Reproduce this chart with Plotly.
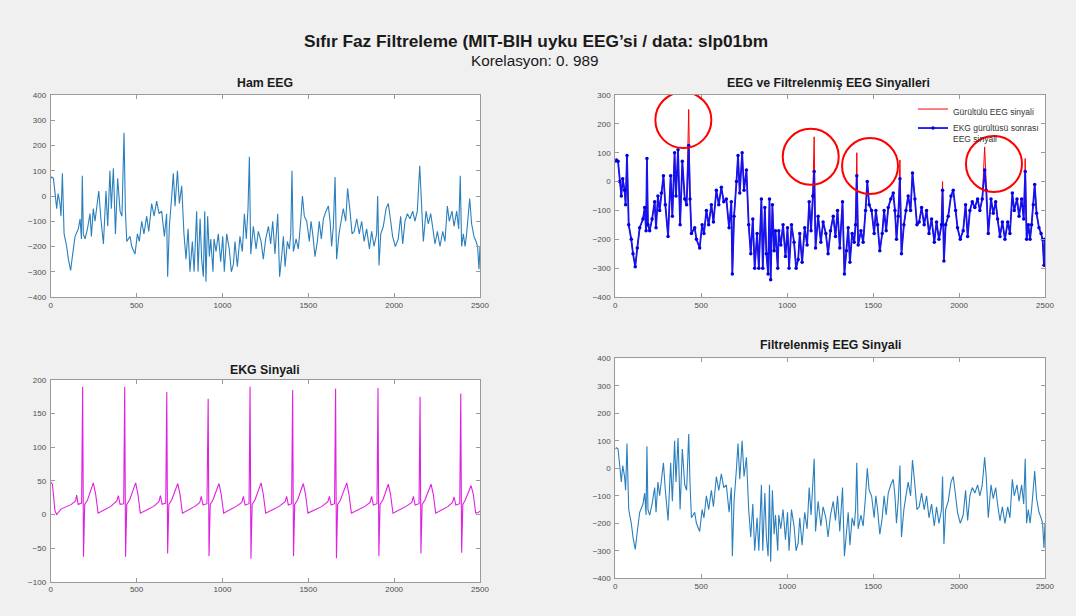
import plotly.graph_objects as go

# ---------------- data ----------------
eeg_t = [0, 6, 16, 25, 35, 43, 54, 60, 68, 78, 93, 103, 116, 128, 142, 161, 171, 179, 184, 190,
         200, 214, 229, 237, 248, 258, 268, 280, 291, 307, 322, 332, 345, 353, 365, 377, 390, 404, 415, 427,
         435, 443, 462, 472, 491, 505, 516, 530, 543, 559, 571, 588, 602, 617, 631, 646, 662, 675, 681, 691,
         705, 714, 724, 738, 749, 763, 776, 788, 800, 811, 825, 835, 850, 858, 870, 879, 889, 897, 904, 914,
         924, 932, 945, 951, 963, 976, 990, 1002, 1011, 1025, 1040, 1052, 1064, 1073, 1087, 1102, 1116, 1128, 1139, 1149,
         1157, 1165, 1180, 1196, 1209, 1225, 1238, 1252, 1268, 1281, 1293, 1306, 1322, 1333, 1345, 1355, 1365, 1378, 1390, 1398,
         1405, 1413, 1429, 1442, 1456, 1466, 1477, 1491, 1506, 1516, 1526, 1539, 1553, 1564, 1576, 1588, 1603, 1617, 1627, 1636,
         1646, 1656, 1665, 1679, 1691, 1704, 1718, 1729, 1743, 1755, 1768, 1782, 1797, 1811, 1825, 1840, 1856, 1869, 1883, 1898,
         1904, 1912, 1922, 1937, 1953, 1966, 1980, 1991, 2007, 2024, 2038, 2050, 2063, 2077, 2092, 2108, 2121, 2135, 2149, 2158,
         2170, 2186, 2199, 2213, 2224, 2238, 2252, 2267, 2283, 2296, 2310, 2321, 2337, 2349, 2364, 2376, 2385, 2393, 2403, 2413,
         2422, 2432, 2440, 2451, 2465, 2477, 2486, 2494, 2500]
eeg_filtered = [70, 75, 70, 0, -50, 10, -30, -80, 90, -150, -200, -250, -295, -230, -160, -130, -90, -170, 80, -150,
                -170, -130, -70, -160, -50, -100, -40, 20, -80, -190, 20, -120, 100, -50, 110, -150, 70, -60, -80, 125,
                -60, -180, -160, -200, -230, -150, -180, -100, -150, -80, -140, -30, -80, -20, -70, -60, -160, -70, -320, -120,
                0, 90, -40, 100, -30, 40, -150, -250, -130, -300, -180, -300, -60, -300, -90, -250, -320, -60, -340, -80,
                -240, -170, -300, -170, -220, -150, -260, -160, -300, -150, -210, -300, -270, -180, -280, -160, -220, -70, -170, -50,
                35, -230, -120, -210, -140, -180, -250, -170, -120, -190, -100, -230, -70, -320, -240, -160, -280, -180, -210, -150,
                20, -220, -170, -210, -100, 0, -80, -100, -180, -100, -150, -240, -180, -100, -170, -90, -60, -40, -100, -200,
                -120, 10, -250, -150, -100, -50, -100, 30, -60, -150, -140, -90, -150, -100, -180, -130, -210, -140, -200, -150,
                -30, -275, -150, -120, -50, -30, -100, -160, -200, -170, -80, -190, -100, -70, -90, -60, -100, -60, 40, -30,
                -180, -60, -110, -70, -130, -190, -140, -200, -140, -180, -40, -100, -60, -120, -60, -130, 35, -200, -150, -200,
                -150, -80, -10, -110, -160, -180, -200, -290, -200]

# ECG artefact peaks present in the raw EEG (sample, raw value)
spike_t = [427, 1157, 1405, 1656, 1904, 2149, 2385]
spike_raw = [250, 155, 100, 75, 0, 120, 80]

ecg_t = [0, 10, 25, 35, 60, 120, 145, 151, 160, 180, 186, 191, 198, 215, 248, 262, 276, 300, 350, 385,
         394, 404, 425, 431, 436, 443, 460, 495, 508, 522, 545, 600, 630, 639, 649, 670, 676, 681, 688, 705,
         740, 753, 767, 790, 840, 868, 877, 887, 910, 917, 922, 929, 945, 980, 993, 1007, 1030, 1080, 1113, 1122,
         1132, 1155, 1161, 1166, 1173, 1190, 1225, 1238, 1252, 1275, 1330, 1365, 1374, 1384, 1403, 1409, 1414, 1421, 1438, 1471,
         1484, 1498, 1520, 1580, 1614, 1623, 1633, 1653, 1659, 1664, 1671, 1688, 1724, 1737, 1751, 1775, 1830, 1860, 1869, 1879,
         1900, 1906, 1911, 1918, 1935, 1966, 1979, 1993, 2015, 2070, 2103, 2112, 2122, 2145, 2151, 2156, 2163, 2180, 2215, 2228,
         2242, 2265, 2315, 2340, 2349, 2359, 2382, 2388, 2393, 2400, 2415, 2448, 2461, 2475, 2490, 2500]
ecg_v = [48, 45, 5, 0, 8, 15, 20, 29, 15, 17, 190, -63, 15, 22, 47, 30, 2, 5, 12, 20,
         28, 15, 16, 190, -63, 15, 22, 47, 30, 2, 5, 12, 19, 28, 15, 17, 182, -58, 15, 22,
         46, 30, 2, 5, 12, 18, 27, 14, 16, 172, -62, 15, 22, 46, 30, 2, 5, 12, 18, 27,
         14, 16, 190, -66, 15, 22, 47, 30, 2, 5, 12, 19, 27, 14, 16, 185, -62, 15, 22, 46,
         30, 2, 5, 12, 19, 27, 14, 16, 187, -65, 15, 22, 47, 30, 2, 5, 12, 18, 27, 14,
         16, 188, -62, 15, 22, 45, 30, 2, 5, 12, 18, 27, 14, 16, 175, -58, 15, 22, 45, 30,
         2, 5, 12, 18, 26, 14, 16, 180, -57, 15, 22, 43, 30, 2, 3, 5]

# red highlight circles on the comparison panel (data coordinates of centre)
circle_t = [396, 1137, 1482, 2203]
circle_v = [213, 86, 54, 61]

spike_map = dict(zip(spike_t, spike_raw))
eeg_raw = [spike_map.get(t, v) for t, v in zip(eeg_t, eeg_filtered)]

# ---------------- figure ----------------
EEG_BLUE = "#2a7fbd"
fig = go.Figure()

fig.add_trace(go.Scatter(x=eeg_t, y=eeg_raw, mode="lines", line=dict(color=EEG_BLUE, width=1.1),
                         xaxis="x", yaxis="y", showlegend=False))
fig.add_trace(go.Scatter(x=eeg_t, y=eeg_raw, mode="lines", line=dict(color="#ff0000", width=1),
                         xaxis="x2", yaxis="y2", name="Gürültülü EEG sinyali"))
fig.add_trace(go.Scatter(x=eeg_t, y=eeg_filtered, mode="lines+markers",
                         line=dict(color="#1414f0", width=1.8), marker=dict(color="#0000e6", size=3.5),
                         xaxis="x2", yaxis="y2", name="EKG gürültüsü sonrası<br>EEG sinyali"))
fig.add_trace(go.Scatter(x=ecg_t, y=ecg_v, mode="lines", line=dict(color="#e020e0", width=1.1),
                         xaxis="x3", yaxis="y3", showlegend=False))
fig.add_trace(go.Scatter(x=eeg_t, y=eeg_filtered, mode="lines", line=dict(color=EEG_BLUE, width=1.1),
                         xaxis="x4", yaxis="y4", showlegend=False))

W, H = 1076, 616
def px(v):
    return v / W
def py(v):
    return 1 - v / H

axis_common = dict(showline=True, mirror="ticks", linecolor="#9a9a9a", linewidth=1, automargin=False,
                   ticks="inside", ticklen=4, tickcolor="#9a9a9a", showgrid=False, zeroline=False,
                   tickfont=dict(family="Liberation Sans, Arial", size=8, color="#4d4d4d"))

xt = [0, 500, 1000, 1500, 2000, 2500]
left = [px(50.7), px(480)]
right = [px(615.3), px(1045)]
fig.update_layout(
    xaxis=dict(domain=left, range=[0, 2500], tickvals=xt, anchor="y", **axis_common),
    yaxis=dict(domain=[py(297), py(95)], range=[-400, 400], dtick=100, anchor="x", **axis_common),
    xaxis2=dict(domain=right, range=[0, 2500], tickvals=xt, anchor="y2", **axis_common),
    yaxis2=dict(domain=[py(297), py(95)], range=[-400, 300], dtick=100, anchor="x2", **axis_common),
    xaxis3=dict(domain=left, range=[0, 2500], tickvals=xt, anchor="y3", **axis_common),
    yaxis3=dict(domain=[py(581.7), py(380)], range=[-100, 200], dtick=50, anchor="x3", **axis_common),
    xaxis4=dict(domain=right, range=[0, 2500], tickvals=xt, anchor="y4", **axis_common),
    yaxis4=dict(domain=[py(578.3), py(358.3)], range=[-400, 400], dtick=100, anchor="x4", **axis_common),
)

for ax in ["yaxis", "yaxis2", "yaxis3", "yaxis4"]:
    fig.layout[ax].ticklabelstandoff = 2

shapes = []
for t, v in zip(circle_t, circle_v):
    shapes.append(dict(type="circle", xref="x2", yref="y2", xsizemode="pixel", ysizemode="pixel",
                       xanchor=t, yanchor=v, x0=-28, x1=28, y0=-28, y1=28,
                       line=dict(color="#ff0000", width=2)))

annots = [
    dict(text="<b>Sıfır Faz Filtreleme (MIT-BIH uyku EEG’si / data: slp01bm</b>", x=px(536), y=py(41),
         font=dict(size=17.3, color="#1a1a1a")),
    dict(text="Korelasyon: 0. 989", x=px(535), y=py(61), font=dict(size=15.3, color="#1a1a1a")),
    dict(text="<b>Ham EEG</b>", x=px(265), y=py(83), font=dict(size=12.3, color="#1a1a1a")),
    dict(text="<b>EEG ve Filtrelenmiş EEG Sinyalleri</b>", x=px(828), y=py(83), font=dict(size=12.3, color="#1a1a1a")),
    dict(text="<b>EKG Sinyali</b>", x=px(265), y=py(370), font=dict(size=12.3, color="#1a1a1a")),
    dict(text="<b>Filtrelenmiş EEG Sinyali</b>", x=px(830), y=py(345), font=dict(size=12.3, color="#1a1a1a")),
]
for a in annots:
    a.update(xref="paper", yref="paper", showarrow=False, xanchor="center", yanchor="middle")

fig.update_layout(
    width=W, height=H, margin=dict(l=0, r=0, t=0, b=0, autoexpand=False),
    paper_bgcolor="#f0f0f0", plot_bgcolor="#ffffff",
    font=dict(family="Liberation Sans, Arial, sans-serif"),
    shapes=shapes, annotations=annots,
    legend=dict(x=px(1044), y=py(97), xanchor="right", yanchor="top", bgcolor="rgba(255,255,255,0)",
                font=dict(size=8.5, color="#333333"), itemwidth=30, tracegroupgap=0, valign="top"),
)

fig.write_html("out.html")
